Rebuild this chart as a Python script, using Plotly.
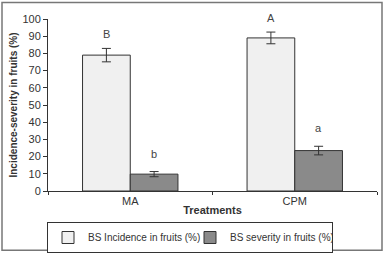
import plotly.graph_objects as go

categories = ["MA", "CPM"]
incidence = [79, 89]
incidence_err = [3.9, 3.4]
severity = [9.8, 23.5]
severity_err = [1.5, 2.5]
incidence_letters = ["B", "A"]
severity_letters = ["b", "a"]
y_ticks = list(range(0, 101, 10))

FONT = "Liberation Sans, Arial, sans-serif"
INK = "#333333"

fig = go.Figure()
fig.add_trace(go.Bar(
    name="BS Incidence in fruits (%)", x=categories, y=incidence,
    marker=dict(color="#f0f0f0", line=dict(color=INK, width=1)),
    error_y=dict(type="data", array=incidence_err, color=INK, thickness=1, width=4.5),
))
fig.add_trace(go.Bar(
    name="BS severity in fruits (%)", x=categories, y=severity,
    marker=dict(color="#8a8a8a", line=dict(color=INK, width=1)),
    error_y=dict(type="data", array=severity_err, color=INK, thickness=1, width=4.5),
))

annotations = []
for i, c in enumerate(categories):
    annotations.append(dict(x=c, y=incidence[i] + incidence_err[i], xshift=-23.75, yshift=14,
                            text=incidence_letters[i], showarrow=False, yanchor="middle",
                            font=dict(family=FONT, size=11, color="#444")))
    annotations.append(dict(x=c, y=severity[i] + severity_err[i], xshift=23.75, yshift=18,
                            text=severity_letters[i], showarrow=False, yanchor="middle",
                            font=dict(family=FONT, size=11, color="#444")))

# outer frame (paper coords derived from plot area 48..377 x 18.5..190.7)
fig.add_shape(type="rect", xref="paper", yref="paper",
              x0=-0.1398, x1=1.0152, y0=-0.344, y1=1.0958,
              line=dict(color="#777777", width=1.5))

fig.update_layout(
    template="none",
    width=387, height=257,
    margin=dict(l=48, r=10, t=18.5, b=66.3, autoexpand=False),
    paper_bgcolor="white", plot_bgcolor="white",
    barmode="group", bargap=0.42, bargroupgap=0,
    showlegend=True,
    legend=dict(orientation="h", xref="container", yref="container",
                x=47 / 387, y=1 - 222 / 257, xanchor="left", yanchor="top",
                bordercolor=INK, borderwidth=1, font=dict(family=FONT, size=10, color="#333"),
                entrywidth=97, entrywidthmode="pixels", itemwidth=30, tracegroupgap=0),
    annotations=annotations,
    font=dict(family=FONT, size=11, color="#333"),
)
fig.update_xaxes(
    automargin=False,
    showline=True, linecolor=INK, linewidth=1,
    ticks="outside", tickson="boundaries", ticklen=3, tickcolor=INK,
    tickfont=dict(family=FONT, size=11, color="#333"),
    title=dict(text="<b>Treatments</b>", standoff=0, font=dict(family=FONT, size=11, color="#333")),
    showgrid=False, zeroline=False, fixedrange=True,
)
fig.update_yaxes(
    automargin=False,
    range=[0, 100], tickvals=y_ticks,
    showline=True, linecolor=INK, linewidth=1,
    ticks="outside", ticklen=4, tickcolor=INK,
    tickfont=dict(family=FONT, size=11, color="#333"),
    title=dict(text="<b>Incidence-severity in fruits (%)</b>", standoff=2,
               font=dict(family=FONT, size=10, color="#333")),
    showgrid=False, zeroline=False, fixedrange=True,
)

fig.write_html("out.html", config={"displayModeBar": False},
               post_script="document.body.style.margin='0';")
